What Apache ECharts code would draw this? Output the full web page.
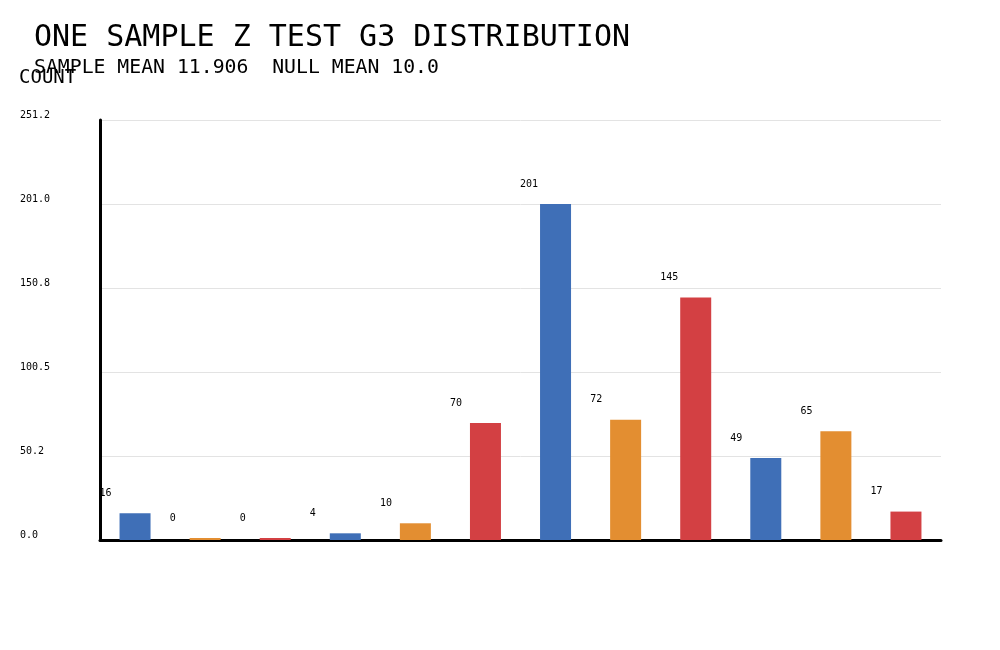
<!DOCTYPE html>
<html>
<head>
<meta charset="utf-8">
<script src="https://cdn.jsdelivr.net/npm/echarts@6/dist/echarts.min.js"></script>
<style>
html,body{margin:0;padding:0;background:#fff;}
#chart{width:1000px;height:650px;}
</style>
</head>
<body>
<div id="chart"></div>
<script>
const categories = ['B1','B2','B3','B4','B5','B6','B7','B8','B9','B10','B11','B12'];
const counts = [16, 0, 0, 4, 10, 70, 201, 72, 145, 49, 65, 17];
const yTicks = [0, 50.25, 100.5, 150.75, 201.0, 251.25];
const yTickLabels = ['0.0', '50.2', '100.5', '150.8', '201.0', '251.2'];
const palette = ['#3F6FB7', '#E38E31', '#D34043'];
const titleText = 'ONE SAMPLE Z TEST G3 DISTRIBUTION';
const subtitleText = 'SAMPLE MEAN 11.906  NULL MEAN 10.0';
const yName = 'COUNT';

const FONT = 'DejaVu Sans Mono';
const chart = echarts.init(document.getElementById('chart'), null, {renderer: 'canvas'});
const yMax = yTicks[yTicks.length - 1];
const yInterval = yTicks[1] - yTicks[0];

chart.setOption({
  animation: false,
  backgroundColor: '#ffffff',
  title: [
    {text: titleText, left: 34, top: 23, padding: 0,
     textStyle: {fontFamily: FONT, fontSize: 30, fontWeight: 'normal', color: '#000'}},
    {text: subtitleText, left: 34, top: 58, padding: 0,
     textStyle: {fontFamily: FONT, fontSize: 19.8, fontWeight: 'normal', color: '#000'}},
    {text: yName, left: 19, top: 69, padding: 0,
     textStyle: {fontFamily: FONT, fontSize: 19, fontWeight: 'normal', color: '#000'}}
  ],
  grid: {left: 100, right: 59, top: 120, bottom: 110, containLabel: false},
  xAxis: {
    type: 'category',
    data: categories,
    axisLine: {show: true, lineStyle: {color: '#000', width: 3}},
    axisTick: {show: false},
    axisLabel: {show: false},
    splitLine: {show: false}
  },
  yAxis: {
    type: 'value',
    min: 0,
    max: yMax,
    interval: yInterval,
    axisLine: {show: true, lineStyle: {color: '#000', width: 3}},
    axisTick: {show: false},
    axisLabel: {
      margin: 80,
      align: 'left',
      verticalAlign: 'bottom',
      lineHeight: 10,
      fontFamily: FONT,
      fontSize: 10,
      color: '#000',
      formatter: v => {
        const i = yTicks.findIndex(t => Math.abs(t - v) < 1e-6);
        return i >= 0 ? yTickLabels[i] : '';
      }
    },
    splitLine: {show: true, lineStyle: {color: '#e3e3e3', width: 1}}
  },
  series: [{
    type: 'bar',
    data: counts,
    barWidth: 31,
    barMinHeight: 2,
    itemStyle: {color: p => palette[p.dataIndex % palette.length]},
    label: {
      show: true,
      position: [-20, -20],
      align: 'left',
      verticalAlign: 'middle',
      fontFamily: FONT,
      fontSize: 10,
      color: '#000'
    }
  }]
});
</script>
</body>
</html>
